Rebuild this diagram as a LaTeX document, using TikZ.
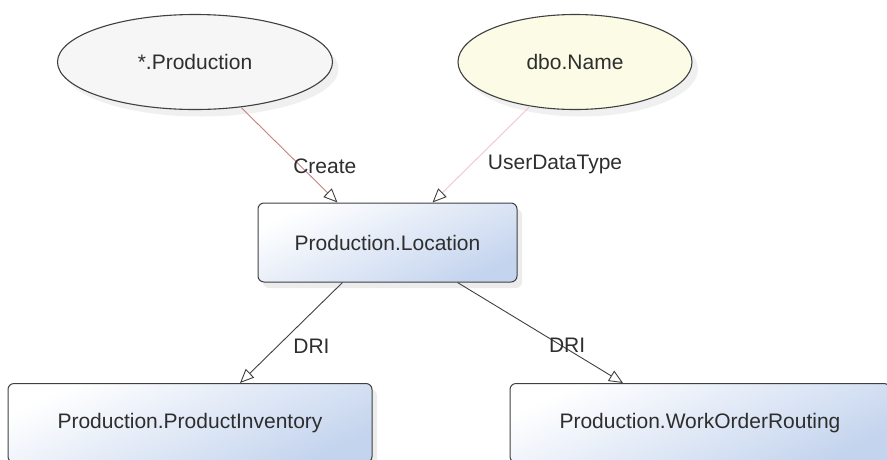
\documentclass[tikz,border=0pt]{standalone}
\usepackage{fontspec}
\setmainfont{Liberation Sans}
\usepackage{tikz}
\usetikzlibrary{arrows.meta,positioning,shapes.geometric,shadows}

\definecolor{boxblue}{HTML}{C4D4EE}
\definecolor{cream}{HTML}{FBFBE6}
\definecolor{paleg}{HTML}{F6F6F6}
\definecolor{txt}{HTML}{2E2E2E}

\begin{document}
\begin{tikzpicture}[
    x=1pt, y=-1pt,
    font=\fontsize{21}{24}\selectfont, text=txt,
    table/.style={draw=black!75, line width=1pt, rounded corners=6pt, minimum height=79pt,
        top color=white, bottom color=boxblue, shading angle=25,
        drop shadow={shadow xshift=5pt, shadow yshift=-6pt, opacity=0.15, fill=black!50}},
    schema/.style={draw=black!75, line width=1.1pt, ellipse, minimum width=275pt, minimum height=95pt,
        drop shadow={shadow xshift=6pt, shadow yshift=-7pt, opacity=0.12, fill=black!50}},
    dep/.style={-{Triangle[open, length=14pt, width=12pt, color=black!75]}, line width=0.9pt},
    tag/.style={inner sep=0pt, text=txt}
]
\useasboundingbox (0,0) rectangle (887,459);
\clip (0,0) rectangle (887,459);

% referenced objects
\node[schema, fill=paleg] (prod) at (195,62) {*.Production};
\node[schema, minimum width=234pt, fill=cream] (name) at (575,62) {dbo.Name};

% tables
\node[table, minimum width=259pt] (loc) at (387.5,242.5) {Production.Location};
\node[table, minimum width=364pt] (inv) at (190,423) {Production.ProductInventory};
\node[table, minimum width=380pt] (route) at (700,423) {Production.WorkOrderRouting};

% dependencies
\draw[dep, draw={rgb,255:red,196;green,128;blue,128}] (prod) -- node[tag, pos=0.62, anchor=west, xshift=-8pt] {Create} ([xshift=-50pt]loc.north);
\draw[dep, draw={rgb,255:red,240;green,196;blue,210}] (name) -- node[tag, pos=0.6, anchor=west, xshift=16pt] {UserDataType} ([xshift=45pt]loc.north);
\draw[dep, draw=black!75] ([xshift=-45pt]loc.south) -- node[tag, pos=0.63, anchor=west, xshift=15pt] {DRI} ([xshift=50pt]inv.north);
\draw[dep, draw=black!75] ([xshift=70pt]loc.south) -- node[tag, pos=0.62, xshift=7pt] {DRI} ([xshift=-77pt]route.north);

\end{tikzpicture}
\end{document}
